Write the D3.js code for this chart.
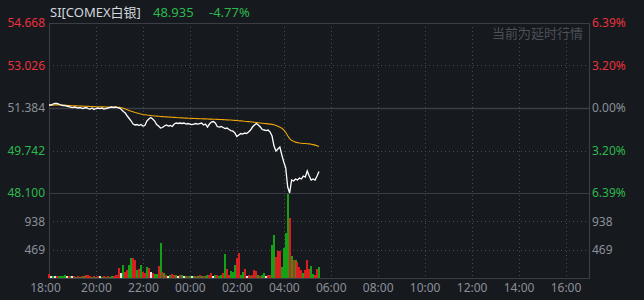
<!DOCTYPE html>
<html>
<head>
<meta charset="utf-8">
<script src="https://cdn.jsdelivr.net/npm/d3@7"></script>
<style>
  html, body { margin: 0; padding: 0; background: #16191e; }
  svg { display: block; }
  text { font-family: "Noto Sans", "Noto Sans CJK SC", sans-serif; }
</style>
</head>
<body>
<svg id="chart" width="644" height="300"></svg>
<script>
// quote header
var quoteName = "SI[COMEX白银]", quoteLast = "48.935", quoteChg = "-4.77%", delayNote = "当前为延时行情";

// axis labels
var timeLabels = ["18:00","20:00","22:00","00:00","02:00","04:00","06:00","08:00","10:00","12:00","14:00","16:00"];
var priceTicks = [54.668, 53.026, 51.384, 49.742, 48.100];
var pctLabels = ["6.39%", "3.20%", "0.00%", "3.20%", "6.39%"];
var volTicks = [938, 469];
var prevClose = 51.384;

// one sample every 5 minutes from 18:00
var price = [51.500,51.500,51.538,51.558,51.558,51.538,51.500,51.480,51.480,51.461,
  51.442,51.422,51.403,51.422,51.403,51.384,51.403,51.364,51.384,51.403,
  51.364,51.345,51.384,51.326,51.364,51.384,51.364,51.384,51.345,51.364,
  51.384,51.403,51.422,51.403,51.422,51.403,51.384,51.326,51.248,51.190,
  51.075,50.978,50.881,50.765,50.727,50.746,50.707,50.746,50.688,50.707,
  50.881,50.959,51.017,50.959,50.881,50.746,50.688,50.611,50.630,50.688,
  50.727,50.688,50.707,50.669,50.765,50.804,50.785,50.804,50.785,50.804,
  50.765,50.785,50.765,50.746,50.765,50.785,50.765,50.785,50.804,50.727,
  50.765,50.649,50.765,50.843,50.862,50.804,50.669,50.649,50.669,50.630,
  50.591,50.611,50.553,50.514,50.495,50.418,50.282,50.340,50.398,50.379,
  50.418,50.398,50.456,50.534,50.649,50.727,50.785,50.727,50.649,50.553,
  50.534,50.514,50.534,50.456,50.302,49.915,49.722,49.799,49.877,49.568,
  49.297,49.065,48.330,48.100,48.602,48.563,48.640,48.602,48.679,48.640,
  48.756,48.717,48.949,48.756,48.602,48.640,48.602,48.756,48.935];

var avgPrice = [51.500,51.490,51.495,51.500,51.505,51.505,51.500,51.495,51.490,51.485,
  51.480,51.475,51.470,51.468,51.465,51.462,51.460,51.456,51.452,51.450,
  51.447,51.444,51.441,51.438,51.435,51.433,51.431,51.428,51.426,51.425,
  51.423,51.421,51.419,51.418,51.416,51.414,51.410,51.395,51.372,51.345,
  51.318,51.290,51.262,51.236,51.212,51.190,51.168,51.150,51.136,51.124,
  51.112,51.102,51.093,51.085,51.077,51.070,51.064,51.058,51.052,51.046,
  51.040,51.035,51.030,51.025,51.020,51.015,51.010,51.006,51.002,50.998,
  50.994,50.990,50.986,50.983,50.980,50.977,50.974,50.971,50.968,50.965,
  50.962,50.959,50.956,50.953,50.950,50.947,50.944,50.941,50.938,50.935,
  50.931,50.927,50.923,50.918,50.912,50.906,50.899,50.893,50.887,50.881,
  50.870,50.864,50.857,50.850,50.842,50.833,50.824,50.815,50.806,50.797,
  50.788,50.779,50.770,50.762,50.752,50.735,50.712,50.680,50.645,50.600,
  50.540,50.440,50.310,50.200,50.135,50.095,50.065,50.045,50.030,50.022,
  50.015,50.010,50.004,49.998,49.985,49.970,49.950,49.925,49.895];

var volume = [66,33,33,33,33,33,33,36,50,30,
  33,30,28,33,17,33,17,33,30,50,
  50,33,17,33,17,30,33,17,33,17,
  33,17,33,33,50,50,166,83,215,99,
  132,215,331,331,298,132,149,215,99,83,
  182,166,99,83,66,66,199,579,99,83,
  50,33,50,66,50,50,33,50,50,33,
  33,33,33,33,33,33,33,50,33,33,
  33,50,50,83,33,50,50,33,50,83,
  397,149,50,116,99,215,331,414,50,99,
  149,33,50,33,50,132,116,50,33,50,
  83,33,50,50,546,712,348,447,447,182,
  497,745,1395,990,364,298,298,265,182,132,
  83,132,298,149,199,66,50,149,182];

// g = down tick, r = up tick, w = flat
var volDir = ("rwgwrggggw" + "rgwrgrgrgr" + "rrgrgrwgrg" + "rggrrrrwgr" + "rggrrgrgrr" +
  "grwrggrgrg" + "rwgrrgwrgw" + "grgwgrgrgr" + "ggrrwgrggr" + "grrgggrrgg" +
  "rwrgrrrgrg" + "gwrrggrrrg" + "gggrgrgrrr" + "grrrggrrg").split("");

(function () {
  var svg = d3.select("#chart"),
      left = 49, right = 589, top = 23, priceBottom = 193, volBottom = 278,
      red = "#e8323c", green = "#2db84d", grey = "#8b9099",
      barRed = "#d91f1f", barGreen = "#15a015", barWhite = "#e6e6e6",
      gridCol = "#474b52", lineCol = "#3b3e44";

  var x = d3.scaleLinear().domain([0, 1380]).range([left, right]);
  var y = d3.scaleLinear().domain([48.100, 54.668]).range([priceBottom, top]);
  var yv = d3.scaleLinear().domain([0, 1407]).range([volBottom, priceBottom]);

  var tickMinutes = timeLabels.map(function (d, i) { return i * 120; });
  var crisp = function (v) { return Math.round(v) + 0.5; };

  // dotted grid
  var grid = svg.append("g");
  grid.selectAll(".vg").data(tickMinutes.slice(1)).enter().append("line")
    .attr("x1", function (d) { return crisp(x(d)); }).attr("x2", function (d) { return crisp(x(d)); })
    .attr("y1", top).attr("y2", volBottom)
    .attr("stroke", gridCol).attr("stroke-dasharray", "1,3");
  grid.selectAll(".hg").data([53.026, 49.742]).enter().append("line")
    .attr("x1", left).attr("x2", right)
    .attr("y1", function (d) { return crisp(y(d)); }).attr("y2", function (d) { return crisp(y(d)); })
    .attr("stroke", gridCol).attr("stroke-dasharray", "1,3");
  grid.selectAll(".vgv").data(volTicks).enter().append("line")
    .attr("x1", left).attr("x2", right)
    .attr("y1", function (d) { return crisp(yv(d)); }).attr("y2", function (d) { return crisp(yv(d)); })
    .attr("stroke", gridCol).attr("stroke-dasharray", "1,3");

  // solid frame lines
  [top, y(prevClose), priceBottom, volBottom].forEach(function (v, i) {
    svg.append("line").attr("x1", left).attr("x2", right + 1)
      .attr("y1", crisp(v)).attr("y2", crisp(v))
      .attr("stroke", lineCol).attr("stroke-width", i === 1 ? 1.6 : 1.2);
  });
  [left, right].forEach(function (v) {
    svg.append("line").attr("x1", crisp(v)).attr("x2", crisp(v))
      .attr("y1", top).attr("y2", volBottom + 1)
      .attr("stroke", lineCol).attr("stroke-width", 1.2);
  });

  // volume bars
  svg.append("g").attr("shape-rendering", "crispEdges")
    .selectAll("rect").data(volume).enter().append("rect")
    .attr("x", function (d, i) { return x(i * 5) - 1; })
    .attr("width", 2)
    .attr("y", function (d) { return yv(d); })
    .attr("height", function (d) { return volBottom - yv(d); })
    .attr("fill", function (d, i) { return volDir[i] === "r" ? barRed : volDir[i] === "g" ? barGreen : barWhite; });

  // price and average lines
  var line = d3.line().x(function (d, i) { return x(i * 5); }).y(function (d) { return y(d); });
  svg.append("path").datum(avgPrice).attr("d", line)
    .attr("fill", "none").attr("stroke", "#f2a70a").attr("stroke-width", 1.1);
  svg.append("path").datum(price).attr("d", line)
    .attr("fill", "none").attr("stroke", "#ffffff").attr("stroke-width", 1.3);

  var tickColor = function (d) { return d > prevClose ? red : d < prevClose ? green : grey; };

  // price axes
  var la = svg.append("g").attr("transform", "translate(" + left + ",0)")
    .call(d3.axisLeft(y).tickValues(priceTicks).tickSize(0).tickPadding(4).tickFormat(d3.format(".3f")));
  la.selectAll("text").attr("fill", tickColor).style("font-size", "12px");
  var ra = svg.append("g").attr("transform", "translate(" + right + ",0)")
    .call(d3.axisRight(y).tickValues(priceTicks).tickSize(0).tickPadding(3)
      .tickFormat(function (d, i) { return pctLabels[i]; }));
  ra.selectAll("text").attr("fill", tickColor).style("font-size", "12px");

  // volume axes
  var lv = svg.append("g").attr("transform", "translate(" + left + ",0)")
    .call(d3.axisLeft(yv).tickValues(volTicks).tickSize(0).tickPadding(4));
  var rv = svg.append("g").attr("transform", "translate(" + right + ",0)")
    .call(d3.axisRight(yv).tickValues(volTicks).tickSize(0).tickPadding(3));
  [lv, rv].forEach(function (g) { g.selectAll("text").attr("fill", grey).style("font-size", "12px"); });

  // time axis
  var ta = svg.append("g").attr("transform", "translate(0," + volBottom + ")")
    .call(d3.axisBottom(x).tickValues(tickMinutes).tickSize(0).tickPadding(5)
      .tickFormat(function (d, i) { return timeLabels[i]; }));
  ta.selectAll("text").attr("fill", grey).style("font-size", "12px")
    .attr("dx", function (d, i) { return i === 0 ? -4 : 0; });

  svg.selectAll(".domain").remove();

  // header
  var head = svg.append("text").attr("x", 50).attr("y", 17).style("font-size", "13px");
  head.append("tspan").attr("fill", "#d3d7de").text(quoteName);
  head.append("tspan").attr("x", 153).attr("fill", green).text(quoteLast);
  head.append("tspan").attr("x", 209).attr("fill", green).text(quoteChg);

  svg.append("text").attr("x", 583).attr("y", 38).attr("text-anchor", "end")
    .attr("fill", "#4c5057").style("font-size", "13px").text(delayNote);
})();
</script>
</body>
</html>
